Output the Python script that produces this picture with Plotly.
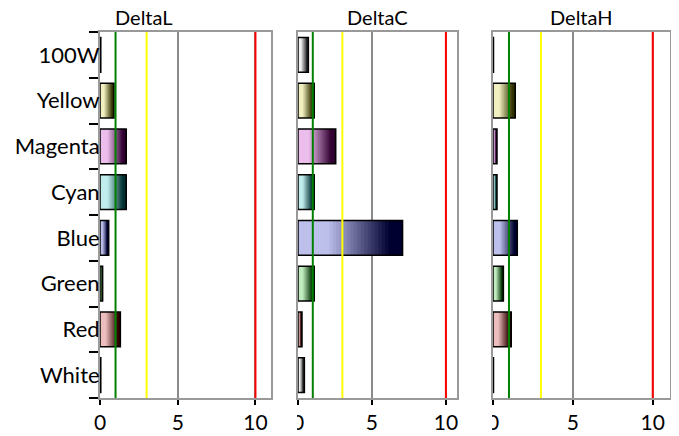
import plotly.graph_objects as go

# ---- data ----
CATEGORIES = ["White", "Red", "Green", "Blue", "Cyan", "Magenta", "Yellow", "100W"]
DELTA_L = [0.05, 1.31, 0.17, 0.56, 1.68, 1.68, 0.90, 0.05]
DELTA_C = [0.43, 0.27, 1.09, 7.07, 1.09, 2.55, 1.09, 0.70]
DELTA_H = [0.03, 1.14, 0.65, 1.52, 0.25, 0.25, 1.39, 0.03]
PANEL_TITLES = ["DeltaL", "DeltaC", "DeltaH"]
REF_LINES = [1, 3, 10]
X_TICKS = [0, 5, 10]

# ---- style ----
OFF = 8  # page body margin
W, H = 679 - OFF, 436 - OFF
FONT = "Lato"
REF_COLORS = ["#008000", "#ffff00", "#ff0000"]
LIGHT = {
    "White": (242, 242, 242), "Red": (236, 190, 190), "Green": (192, 236, 192),
    "Blue": (190, 192, 236), "Cyan": (192, 236, 236), "Magenta": (236, 190, 236),
    "Yellow": (240, 240, 192), "100W": (242, 242, 242),
}
DARK = {
    "White": (40, 40, 40), "Red": (48, 0, 0), "Green": (0, 48, 0),
    "Blue": (0, 0, 48), "Cyan": (0, 48, 48), "Magenta": (48, 0, 48),
    "Yellow": (48, 48, 0), "100W": (40, 40, 40),
}
PANEL_PX = [(100, 271), (298, 457), (493, 670)]
PANEL_RANGE = [11.0, 10.75, 11.08]
TITLE_X = [144, 377, 581]
Y_TOP, Y_BOT = 32, 398
N_SEG = 30
GRAD_START, GRAD_END = 0.28, 0.88


def px(x):
    return (x - OFF) / W


def py(y):
    return 1 - (y - OFF) / H


def grad_color(cat, t):
    if t < GRAD_START:
        w = 0.0
    elif t > GRAD_END:
        w = 1.0
    else:
        w = (t - GRAD_START) / (GRAD_END - GRAD_START)
    a, b = LIGHT[cat], DARK[cat]
    c = [round(a[i] + (b[i] - a[i]) * w) for i in range(3)]
    return f"rgb({c[0]},{c[1]},{c[2]})"


fig = go.Figure()
panels = [DELTA_L, DELTA_C, DELTA_H]
for p, vals in enumerate(panels):
    xa = "x" if p == 0 else f"x{p+1}"
    ya = "y" if p == 0 else f"y{p+1}"
    for k in range(N_SEG):
        t = (k + 0.5) / N_SEG
        fig.add_trace(go.Bar(
            orientation="h", y=CATEGORIES,
            x=[v - k * v / N_SEG for v in vals],
            base=[k * v / N_SEG for v in vals],
            marker=dict(color=[grad_color(c, t) for c in CATEGORIES], line=dict(width=0)),
            xaxis=xa, yaxis=ya, showlegend=False, hoverinfo="skip",
        ))
    fig.add_trace(go.Bar(
        orientation="h", y=CATEGORIES, x=vals, base=[0] * len(vals),
        marker=dict(color="rgba(0,0,0,0)", line=dict(color="black", width=1.5)),
        xaxis=xa, yaxis=ya, showlegend=False, hoverinfo="skip",
    ))

layout = dict(
    template="none",
    width=W, height=H, margin=dict(l=0, r=0, t=0, b=0, pad=0), autosize=False,
    paper_bgcolor="white", plot_bgcolor="white",
    barmode="overlay", bargap=0.24, showlegend=False,
    font=dict(family=FONT, size=20, color="black"),
)
shapes = []
annotations = []
for p in range(3):
    xk = "xaxis" if p == 0 else f"xaxis{p+1}"
    yk = "yaxis" if p == 0 else f"yaxis{p+1}"
    xr = "x" if p == 0 else f"x{p+1}"
    yr = "y" if p == 0 else f"y{p+1}"
    x0, x1 = PANEL_PX[p]
    layout[xk] = dict(
        domain=[px(x0), px(x1)], anchor=yr, range=[0, PANEL_RANGE[p]], automargin=False,
        tickvals=X_TICKS, ticks="outside", ticklen=5, tickwidth=2, tickcolor="black",
        showline=True, linecolor="#999999", linewidth=2, mirror=True,
        showgrid=True, gridcolor="#8a8a8a", gridwidth=1.5, zeroline=False,
        tickfont=dict(family=FONT, size=21, color="black"), fixedrange=True,
    )
    ydict = dict(
        domain=[py(Y_BOT), py(Y_TOP)], anchor=xr, type="category", automargin=False,
        categoryorder="array", categoryarray=CATEGORIES,
        showline=True, linecolor="#999999", linewidth=2, mirror=True,
        showgrid=False, zeroline=False, fixedrange=True,
        tickfont=dict(family=FONT, size=22, color="black"),
    )
    if p == 0:
        ydict.update(ticks="outside", tickson="boundaries", ticklen=9, tickwidth=2,
                     tickcolor="black", showticklabels=True, ticklabelstandoff=-6)
    else:
        ydict.update(ticks="", showticklabels=False)
    layout[yk] = ydict
    for v, col in zip(REF_LINES, REF_COLORS):
        shapes.append(dict(type="line", xref=xr, yref=f"{yr} domain",
                           x0=v, x1=v, y0=0, y1=1, layer="above",
                           line=dict(color=col, width=2)))
    annotations.append(dict(text=PANEL_TITLES[p], x=px(TITLE_X[p]), y=py(31),
                            xref="paper", yref="paper", showarrow=False,
                            xanchor="center", yanchor="bottom",
                            font=dict(family=FONT, size=20, color="black")))
    if p > 0:
        shapes.append(dict(type="rect", xref="paper", yref="paper",
                           x0=px(x0 - 14), x1=px(x0 - 1),
                           y0=0, y1=py(407), layer="above",
                           fillcolor="white", line=dict(width=0)))

layout["shapes"] = shapes
layout["annotations"] = annotations
fig.update_layout(**layout)
fig.write_html("out.html")
